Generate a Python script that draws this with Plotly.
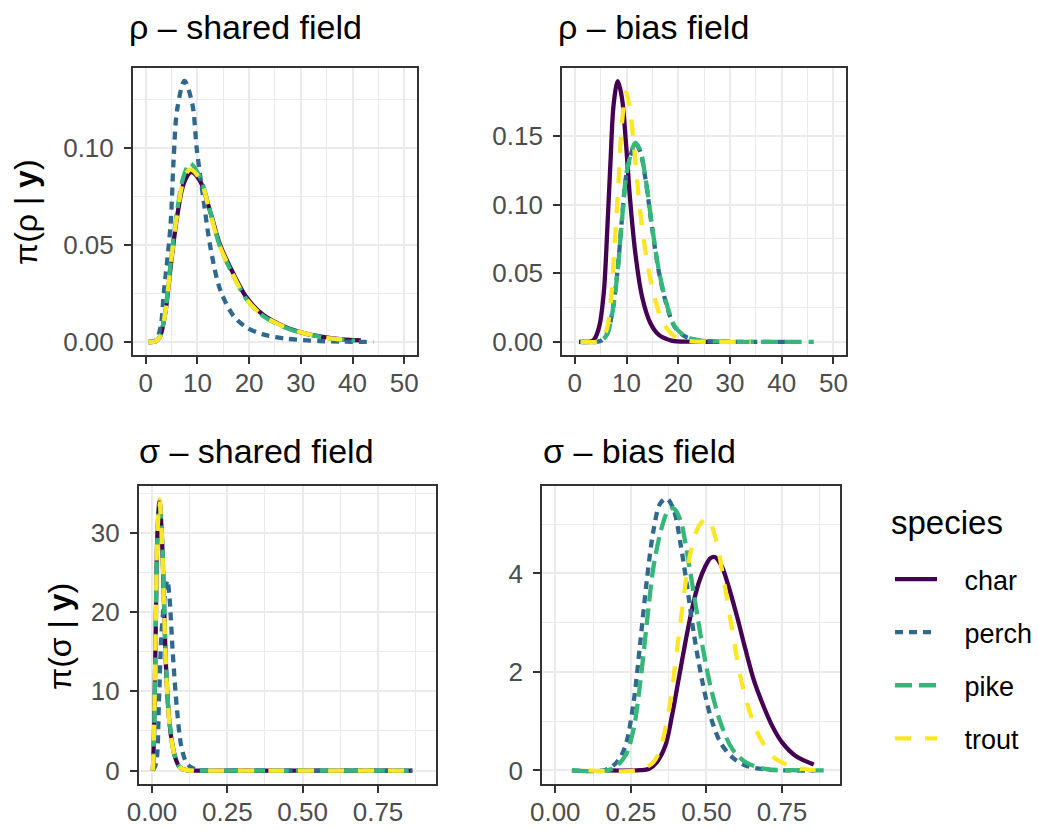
import plotly.graph_objects as go

species = ["char", "perch", "pike", "trout"]
colors = {"char": "#440154", "perch": "#31688E", "pike": "#35B779", "trout": "#FDE725"}
dashes = {"char": "solid", "perch": "8px,6px", "pike": "17px,7px", "trout": "16px,14px"}

panel_titles = ["ρ – shared field", "ρ – bias field", "σ – shared field", "σ – bias field"]
y_titles = ["π(ρ | <b>y</b>)", "π(σ | <b>y</b>)"]
legend_title = "species"

# ---- rho, shared field ----
rs_x_char = [0.5, 2.0, 2.8, 3.8, 4.8, 6.1, 7.4, 8.8, 10.5, 12.5, 14.4, 17.0, 19.5, 22.7, 27.2, 31.0, 34.8, 38.0, 41.6]
rs_y_char = [0, 0.0005, 0.003, 0.015, 0.038, 0.065, 0.082, 0.0875, 0.083, 0.067, 0.050, 0.035, 0.023, 0.014, 0.0075, 0.0043, 0.0024, 0.0014, 0.0008]
rs_x_perch = [0.5, 2.0, 2.9, 3.5, 4.8, 5.4, 6.1, 7.5, 9.0, 9.9, 11.2, 12.5, 14.4, 17.0, 19.5, 22.7, 27.2, 33.6, 38.0, 44.0]
rs_y_perch = [0, 0.001, 0.008, 0.025, 0.060, 0.094, 0.120, 0.1345, 0.123, 0.099, 0.073, 0.049, 0.027, 0.0134, 0.0075, 0.0039, 0.0017, 0.0005, 0.0002, 0]
rs_x_pike = [0.5, 2.0, 2.8, 3.8, 4.8, 6.1, 7.4, 8.6, 10.5, 12.5, 14.4, 17.0, 19.5, 22.7, 27.2, 31.0, 34.8, 38.0, 40.5]
rs_y_pike = [0, 0.0005, 0.003, 0.016, 0.040, 0.068, 0.086, 0.092, 0.085, 0.067, 0.049, 0.034, 0.022, 0.0134, 0.0072, 0.0042, 0.0022, 0.0012, 0.0007]
rs_x_trout = [0.5, 2.0, 2.8, 3.8, 4.8, 6.1, 7.4, 8.6, 10.5, 12.5, 14.4, 17.0, 19.5, 22.7, 27.2, 31.0, 34.8, 39.0]
rs_y_trout = [0, 0.0005, 0.003, 0.015, 0.039, 0.066, 0.084, 0.089, 0.084, 0.066, 0.049, 0.034, 0.022, 0.0135, 0.0074, 0.0043, 0.0022, 0.0011]

# ---- rho, bias field ----
rb_x_char = [0.8, 3.0, 3.7, 4.7, 5.6, 6.3, 6.9, 7.5, 8.3, 9.1, 9.9, 10.7, 11.7, 13.0, 14.6, 16.2, 18.7, 22.0, 26.0, 30.0]
rb_y_char = [0, 0.0003, 0.0017, 0.011, 0.036, 0.084, 0.132, 0.173, 0.190, 0.178, 0.144, 0.103, 0.0645, 0.033, 0.0138, 0.0053, 0.001, 0.0002, 0, 0]
rb_x_perch = [1.1, 4.5, 5.3, 6.3, 7.2, 8.2, 9.1, 10.1, 11.7, 12.6, 13.6, 14.9, 16.2, 17.8, 19.3, 21.3, 23.8, 28.0, 34.0, 42.0]
rb_y_perch = [0, 0.0002, 0.0015, 0.0065, 0.021, 0.050, 0.089, 0.125, 0.144, 0.139, 0.120, 0.084, 0.052, 0.026, 0.011, 0.004, 0.0012, 0.0002, 0, 0]
rb_x_pike = [1.1, 4.5, 5.3, 6.3, 7.2, 8.2, 9.1, 10.1, 11.7, 12.6, 13.6, 14.9, 16.2, 17.8, 19.3, 21.3, 23.8, 28.0, 36.0, 46.2]
rb_y_pike = [0, 0.0002, 0.0014, 0.006, 0.020, 0.049, 0.088, 0.125, 0.145, 0.140, 0.121, 0.085, 0.053, 0.027, 0.0115, 0.0042, 0.0013, 0.0002, 0, 0]
rb_x_trout = [1.1, 4.5, 5.3, 6.3, 7.1, 7.7, 8.4, 9.0, 9.9, 10.7, 11.7, 12.6, 13.9, 15.5, 17.1, 19.3, 21.9, 26.0, 34.0]
rb_y_trout = [0, 0.0002, 0.002, 0.011, 0.036, 0.072, 0.113, 0.154, 0.182, 0.168, 0.132, 0.096, 0.060, 0.031, 0.0138, 0.004, 0.0008, 0.0001, 0]

# ---- sigma, shared field ----
ss_x_char = [0.003, 0.0066, 0.012, 0.0176, 0.025, 0.033, 0.040, 0.047, 0.058, 0.075, 0.092, 0.114, 0.2, 0.4, 0.6, 0.864]
ss_y_char = [0, 4.4, 16.9, 29.4, 34.0, 29.4, 21.0, 12.7, 6.0, 1.9, 0.4, 0.05, 0, 0, 0, 0]
ss_x_perch = [0.003, 0.014, 0.023, 0.031, 0.042, 0.051, 0.058, 0.069, 0.083, 0.097, 0.114, 0.13, 0.158, 0.3, 0.6, 0.864]
ss_y_perch = [0, 1.0, 8.5, 16.9, 21.9, 24.0, 21.9, 14.8, 7.7, 3.1, 1.0, 0.4, 0.05, 0, 0, 0]
ss_x_pike = [0.003, 0.0066, 0.012, 0.0176, 0.025, 0.033, 0.040, 0.047, 0.058, 0.075, 0.092, 0.114, 0.2, 0.4, 0.6, 0.864]
ss_y_pike = [0, 4.2, 16.5, 29.0, 33.6, 29.6, 21.4, 13.0, 6.2, 2.0, 0.45, 0.05, 0, 0, 0, 0]
ss_x_trout = [0.003, 0.0066, 0.012, 0.0176, 0.025, 0.033, 0.040, 0.047, 0.058, 0.075, 0.092, 0.114, 0.2, 0.4, 0.6, 0.864]
ss_y_trout = [0, 4.5, 17.0, 29.6, 34.2, 29.3, 20.8, 12.5, 5.9, 1.85, 0.4, 0.05, 0, 0, 0, 0]

# ---- sigma, bias field ----
sb_x_char = [0.17, 0.28, 0.309, 0.336, 0.364, 0.386, 0.408, 0.43, 0.452, 0.474, 0.496, 0.513, 0.529, 0.551, 0.573, 0.601, 0.629, 0.656, 0.684, 0.717, 0.75, 0.794, 0.855]
sb_y_char = [0, 0.005, 0.03, 0.17, 0.5, 1.11, 1.85, 2.59, 3.27, 3.8, 4.14, 4.31, 4.33, 4.14, 3.74, 3.13, 2.46, 1.85, 1.38, 0.91, 0.57, 0.3, 0.12]
sb_x_perch = [0.055, 0.165, 0.204, 0.232, 0.259, 0.281, 0.303, 0.325, 0.347, 0.369, 0.392, 0.414, 0.436, 0.458, 0.485, 0.513, 0.546, 0.585, 0.629, 0.695, 0.78, 0.86]
sb_y_perch = [0, 0.01, 0.17, 0.5, 1.38, 2.59, 3.87, 4.88, 5.42, 5.52, 5.29, 4.61, 3.74, 2.79, 1.85, 1.11, 0.57, 0.27, 0.1, 0.02, 0, 0]
sb_x_pike = [0.055, 0.187, 0.232, 0.259, 0.281, 0.303, 0.325, 0.353, 0.375, 0.392, 0.414, 0.436, 0.458, 0.485, 0.513, 0.546, 0.585, 0.629, 0.695, 0.78, 0.888]
sb_y_pike = [0, 0.03, 0.3, 0.84, 1.78, 3.0, 4.14, 4.95, 5.29, 5.32, 5.08, 4.41, 3.6, 2.59, 1.72, 0.98, 0.44, 0.17, 0.03, 0.005, 0]
sb_x_trout = [0.11, 0.276, 0.325, 0.353, 0.38, 0.403, 0.425, 0.447, 0.474, 0.502, 0.529, 0.557, 0.585, 0.612, 0.64, 0.673, 0.717, 0.761, 0.816, 0.893]
sb_y_trout = [0, 0.01, 0.17, 0.57, 1.38, 2.46, 3.54, 4.41, 4.95, 5.12, 4.75, 3.87, 2.86, 1.92, 1.25, 0.71, 0.3, 0.13, 0.03, 0]

panels = [
    {"char": (rs_x_char, rs_y_char), "perch": (rs_x_perch, rs_y_perch), "pike": (rs_x_pike, rs_y_pike), "trout": (rs_x_trout, rs_y_trout)},
    {"char": (rb_x_char, rb_y_char), "perch": (rb_x_perch, rb_y_perch), "pike": (rb_x_pike, rb_y_pike), "trout": (rb_x_trout, rb_y_trout)},
    {"char": (ss_x_char, ss_y_char), "perch": (ss_x_perch, ss_y_perch), "pike": (ss_x_pike, ss_y_pike), "trout": (ss_x_trout, ss_y_trout)},
    {"char": (sb_x_char, sb_y_char), "perch": (sb_x_perch, sb_y_perch), "pike": (sb_x_pike, sb_y_pike), "trout": (sb_x_trout, sb_y_trout)},
]

W, H = 1038, 831
# panel pixel boxes (left, right, top, bottom)
boxes = [(133, 418, 68, 355), (563, 848, 68, 355), (139, 437, 486, 784), (543, 842, 486, 784)]
xranges = [[-2.5, 52.5], [-2.5, 52.5], [-0.044, 0.943], [-0.044, 0.943]]
yranges = [[-0.0067, 0.1412], [-0.0095, 0.1995], [-1.7, 35.9], [-0.275, 5.775]]
xdt = [(10, 5, "d"), (10, 5, "d"), (0.25, 0.125, ".2f"), (0.25, 0.125, ".2f")]
ydt = [(0.05, 0.025, ".2f"), (0.05, 0.025, ".2f"), (10, 5, "d"), (2, 1, "d")]

fig = go.Figure()

NB = "\u00a0\u00a0\u00a0"
for i, pan in enumerate(panels):
    sfx = "" if i == 0 else str(i + 1)
    for sp in species:
        xs, ys = pan[sp]
        fig.add_trace(go.Scatter(
            x=xs, y=ys, mode="lines", name=NB + sp, legendgroup=sp,
            showlegend=(i == 0),
            line=dict(color=colors[sp], width=4.3, dash=dashes[sp], shape="spline", smoothing=0.9),
            xaxis="x" + sfx, yaxis="y" + sfx,
        ))

def axis(domain, rng, dt, anchor, is_y):
    d = dict(
        domain=domain, range=rng, dtick=dt[0], tick0=0, tickformat=dt[2],
        showgrid=True, gridcolor="#EBEBEB", gridwidth=2,
        minor=dict(dtick=dt[1], tick0=0, showgrid=True, gridcolor="#EBEBEB", gridwidth=1),
        showline=True, mirror=True, linecolor="#333333", linewidth=1.5,
        ticks="outside", ticklen=7, tickwidth=1.5, tickcolor="#333333",
        tickfont=dict(size=26, color="#4D4D4D"), zeroline=False, anchor=anchor,
        automargin=False,
        ticklabelstandoff=5 if is_y else -3,
    )
    return d

layout = {}
for i, (l, r, t, b) in enumerate(boxes):
    sfx = "" if i == 0 else str(i + 1)
    layout["xaxis" + sfx] = axis([l / W, r / W], xranges[i], xdt[i], "y" + sfx, False)
    layout["yaxis" + sfx] = axis([1 - b / H, 1 - t / H], yranges[i], ydt[i], "x" + sfx, True)

fig.update_layout(**layout)

annotations = []
title_pos = [(127, 27), (557, 27), (137, 451), (542, 451)]
for (px, py), txt in zip(title_pos, panel_titles):
    annotations.append(dict(text=txt, x=px / W, y=1 - py / H, xref="paper", yref="paper",
                            xanchor="left", yanchor="middle", showarrow=False,
                            font=dict(size=34, color="black")))
for (px, py), txt in zip([(26, 212), (60, 636)], y_titles):
    annotations.append(dict(text=txt, x=px / W, y=1 - py / H, xref="paper", yref="paper",
                            xanchor="center", yanchor="middle", textangle=-90, showarrow=False,
                            font=dict(size=32, color="black")))
annotations.append(dict(text=legend_title, x=891 / W, y=1 - 522 / H, xref="paper", yref="paper",
                        xanchor="left", yanchor="middle", showarrow=False,
                        font=dict(size=33, color="black")))

fig.update_layout(
    width=W, height=H, margin=dict(l=0, r=0, t=0, b=0),
    plot_bgcolor="white", paper_bgcolor="white",
    font=dict(family="Liberation Sans, Arial, sans-serif", color="black"),
    annotations=annotations,
    legend=dict(x=892 / W, xanchor="left", y=1 - 555 / H, yanchor="top",
                font=dict(size=27, color="black"), tracegroupgap=15, itemwidth=42,
                bgcolor="rgba(0,0,0,0)"),
)

fig.write_html("out.html")
